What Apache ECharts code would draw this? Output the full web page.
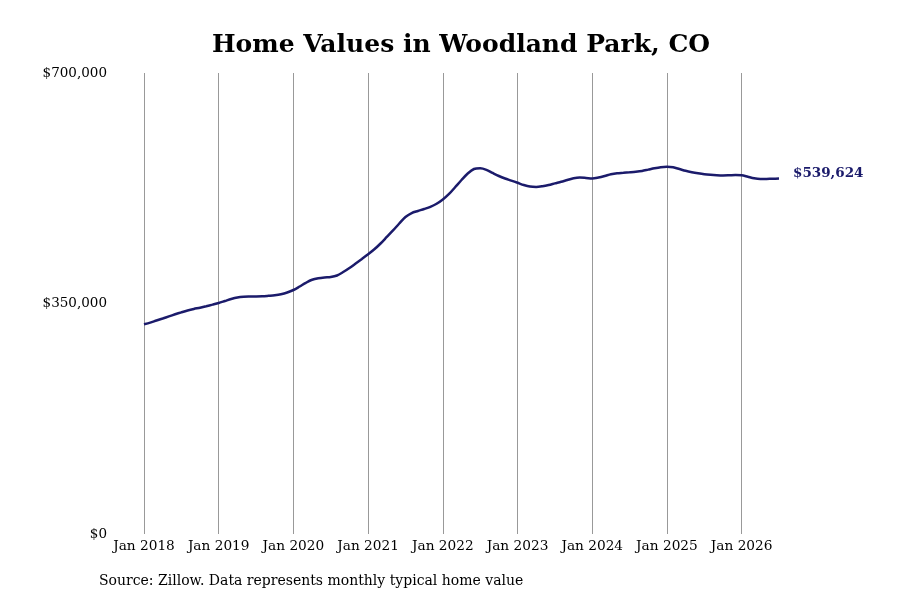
<!DOCTYPE html>
<html>
<head>
<meta charset="utf-8">
<script src="https://cdn.jsdelivr.net/npm/echarts@6/dist/echarts.min.js"></script>
<style>html,body{margin:0;padding:0;background:#fff}#c{width:900px;height:600px}</style>
</head>
<body>
<div id="c"></div>
<script>
const months = [];
for (let y = 2018; y <= 2026; y++) {
  for (const m of ['Jan','Feb','Mar','Apr','May','Jun','Jul','Aug','Sep','Oct','Nov','Dec']) {
    months.push(m + ' ' + y);
  }
}
const values = [
  318500, 321000, 324200, 327200, 330400, 333600, 336600, 339400, 341700, 343600, 345900, 348300,
  350800, 353800, 356800, 359100, 360200, 360500, 360600, 360900, 361700, 362600, 364100, 366700,
  370500, 375800, 381400, 386000, 388300, 389500, 390200, 392500, 397800, 403900, 410700, 417600,
  424700, 432300, 441100, 451000, 460900, 471500, 481400, 487400, 490500, 493500, 496800, 501400,
  507900, 516300, 526900, 537500, 547400, 554200, 555300, 553000, 548200, 543600, 539800, 536600,
  533300, 529900, 527500, 526900, 528000, 529900, 532400, 534800, 537500, 540100, 541200, 540600,
  539800, 541300, 543600, 546300, 547900, 548500, 549200, 550000, 551200, 553300, 555400, 557000,
  557600, 556800, 554200, 551500, 549400, 547700, 546300, 545400, 544800, 544500, 544700, 545000,
  544700, 542400, 540100, 539100, 539200, 539400, 539624
];
const categories = months.slice(0, values.length);
const yTicks = [0, 350000, 700000];

const serif = "'DejaVu Serif', serif";
const chart = echarts.init(document.getElementById('c'), null, {renderer: 'canvas'});
const fmt = v => '$' + Math.round(v).toLocaleString('en-US');

chart.setOption({
  backgroundColor: '#ffffff',
  animation: false,
  title: {
    text: 'Home Values in Woodland Park, CO',
    left: 456,
    textAlign: 'center',
    top: 28,
    textStyle: {fontFamily: serif, fontWeight: 'bold', fontSize: 25, color: '#000'}
  },
  graphic: [{
    type: 'text',
    left: 99,
    top: 574,
    style: {text: 'Source: Zillow. Data represents monthly typical home value', font: "14px " + serif, fill: '#000'}
  }],
  grid: {left: 144, right: 121, top: 73, bottom: 66},
  xAxis: {
    type: 'category',
    data: categories,
    boundaryGap: false,
    axisLine: {show: false},
    axisTick: {show: false},
    axisLabel: {
      interval: i => i % 12 === 0,
      fontFamily: serif, fontSize: 13.7, color: '#000', margin: 5
    },
    splitLine: {show: true, interval: i => i % 12 === 0, lineStyle: {color: '#999', width: 1}}
  },
  yAxis: {
    type: 'value',
    min: yTicks[0],
    max: yTicks[2],
    interval: 350000,
    axisLine: {show: false},
    axisTick: {show: false},
    splitLine: {show: false},
    axisLabel: {formatter: fmt, fontFamily: serif, fontSize: 13.5, color: '#000', margin: 37}
  },
  series: [{
    type: 'line',
    data: values,
    smooth: 0.3,
    symbol: 'none',
    lineStyle: {color: '#1b1b6b', width: 2.5},
    endLabel: {
      show: true,
      formatter: p => fmt(p.value),
      fontFamily: serif, fontWeight: 'bold', fontSize: 13.5, color: '#1b1b6b', distance: 14,
      offset: [0, -5]
    }
  }]
});
</script>
</body>
</html>
